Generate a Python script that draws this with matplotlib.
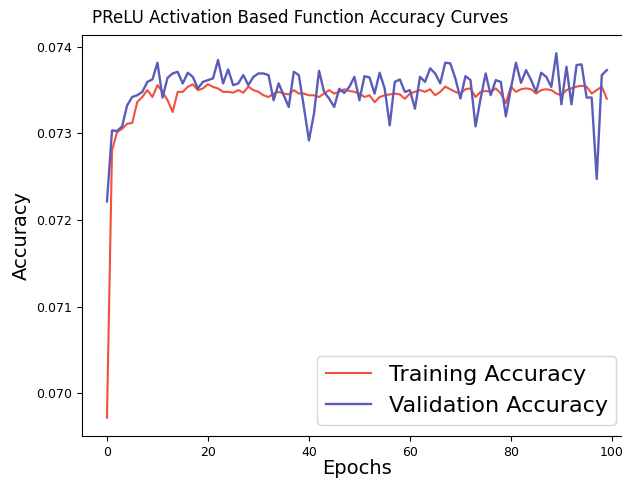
import matplotlib
matplotlib.use("Agg")
import matplotlib.pyplot as plt
from matplotlib.ticker import FormatStrFormatter

epochs = list(range(100))

train_acc = [
    0.069717, 0.072803, 0.073015, 0.073054, 0.073112, 0.073120, 0.073363, 0.073421, 0.073499, 0.073421,
    0.073557, 0.073479, 0.073383, 0.073247, 0.073479, 0.073479, 0.073537, 0.073568, 0.073499, 0.073519,
    0.073568, 0.073537, 0.073519, 0.073479, 0.073480, 0.073470, 0.073500, 0.073470, 0.073540, 0.073500,
    0.073480, 0.073440, 0.073420, 0.073460, 0.073480, 0.073460, 0.073450, 0.073500, 0.073460, 0.073460,
    0.073440, 0.073440, 0.073420, 0.073460, 0.073500, 0.073460, 0.073480, 0.073510, 0.073490, 0.073480,
    0.073460, 0.073420, 0.073440, 0.073360, 0.073420, 0.073440, 0.073450, 0.073460, 0.073450, 0.073400,
    0.073460, 0.073480, 0.073500, 0.073480, 0.073510, 0.073440, 0.073480, 0.073540, 0.073510, 0.073480,
    0.073460, 0.073510, 0.073520, 0.073420, 0.073480, 0.073490, 0.073480, 0.073520, 0.073460, 0.073350,
    0.073540, 0.073480, 0.073510, 0.073520, 0.073510, 0.073460, 0.073500, 0.073510, 0.073500, 0.073460,
    0.073440, 0.073500, 0.073520, 0.073540, 0.073550, 0.073540, 0.073460, 0.073500, 0.073540, 0.073400,
]

val_acc = [
    0.072215, 0.073035, 0.073027, 0.073081, 0.073325, 0.073421, 0.073441, 0.073479, 0.073595, 0.073623,
    0.073816, 0.073414, 0.073642, 0.073692, 0.073711, 0.073577, 0.073700, 0.073653, 0.073519, 0.073595,
    0.073615, 0.073635, 0.073847, 0.073577, 0.073739, 0.073557, 0.073577, 0.073673, 0.073557, 0.073653,
    0.073692, 0.073692, 0.073673, 0.073383, 0.073577, 0.073441, 0.073305, 0.073711, 0.073673, 0.073305,
    0.072919, 0.073228, 0.073723, 0.073479, 0.073402, 0.073305, 0.073515, 0.073468, 0.073537, 0.073653,
    0.073383, 0.073661, 0.073646, 0.073460, 0.073700, 0.073519, 0.073093, 0.073595, 0.073623, 0.073479,
    0.073499, 0.073286, 0.073653, 0.073595, 0.073751, 0.073692, 0.073577, 0.073816, 0.073808, 0.073635,
    0.073402, 0.073661, 0.073615, 0.073081, 0.073402, 0.073692, 0.073441, 0.073615, 0.073595, 0.073197,
    0.073519, 0.073816, 0.073584, 0.073731, 0.073615, 0.073479, 0.073700, 0.073653, 0.073537, 0.073925,
    0.073336, 0.073769, 0.073336, 0.073789, 0.073797, 0.073414, 0.073414, 0.072474, 0.073673, 0.073731,
]

y_ticks = [0.070, 0.071, 0.072, 0.073, 0.074]
x_ticks = [0, 20, 40, 60, 80, 100]

fig = plt.figure(figsize=(6.22, 4.79), dpi=100)
# axes runs a little past the right edge, as in the reference crop
ax = fig.add_axes([0.1318, 0.0898, 0.884, 0.837])

ax.plot(epochs, train_acc, color='#f2503a', linewidth=1.5, label='Training Accuracy')
ax.plot(epochs, val_acc, color='#5a5cba', linewidth=1.7, label='Validation Accuracy')

ax.set_yticks(y_ticks)
ax.set_xticks(x_ticks)
ax.yaxis.set_major_formatter(FormatStrFormatter('%.3f'))
ax.tick_params(labelsize=9)

ax.set_xlabel('Epochs', fontsize=14, labelpad=0)
ax.set_ylabel('Accuracy', fontsize=14)
ax.set_title('PReLU Activation Based Function Accuracy Curves', fontsize=12, x=0.396, pad=9)
ax.legend(loc='lower right', fontsize=16, borderaxespad=0,
          bbox_to_anchor=(0.972, 0.028))

fig.savefig('out.png', dpi=100)
